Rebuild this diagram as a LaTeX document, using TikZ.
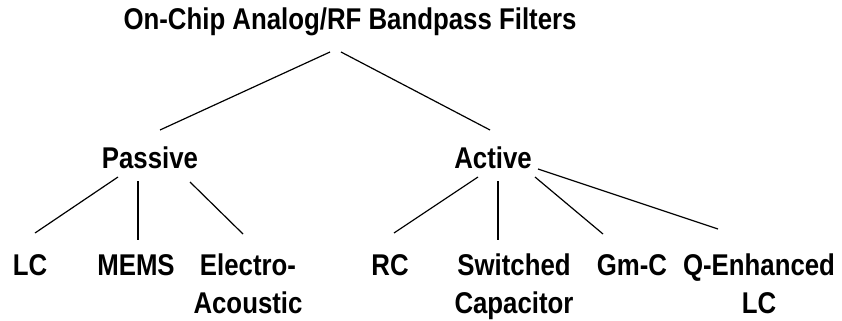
\documentclass[tikz,border=0pt]{standalone}
\usepackage{fontspec}
\setmainfont{Liberation Sans}[FakeStretch=0.86]
\begin{document}
\begin{tikzpicture}[x=0.75pt,y=-0.75pt,
  lbl/.style={anchor=base,inner sep=0pt,font=\fontsize{22.5}{28.5}\selectfont\bfseries,align=center},
  conn/.style={line width=0.9pt,black}]
\useasboundingbox (0,0) rectangle (842,321);
\fill[white] (0,0) rectangle (842,321);
\node[lbl] (root) at (350,29.5) {On-Chip Analog/RF Bandpass Filters};
\node[lbl] (passive) at (150,168) {Passive};
\node[lbl] (active) at (493,168) {Active};
\node[lbl] (lc) at (30,275) {LC};
\node[lbl] (mems) at (136,275) {MEMS};
\node[lbl] (electro) at (248,313) {Electro-\\Acoustic};
\node[lbl] (rc) at (390,275) {RC};
\node[lbl] (sc) at (514,313) {Switched\\Capacitor};
\node[lbl] (gmc) at (632,275) {Gm-C};
\node[lbl] (qlc) at (759,313) {Q-Enhanced\\LC};
% connector end points
\coordinate (rootL) at (330,52);
\coordinate (rootR) at (341,52);
\coordinate (pasT) at (160,130);
\coordinate (actT) at (490,130);
\coordinate (pasB1) at (118,177);
\coordinate (pasB2) at (138,181);
\coordinate (pasB3) at (190,182);
\coordinate (lcT) at (35,233);
\coordinate (memsT) at (138,240);
\coordinate (elT) at (243,234);
\coordinate (actB1) at (478,177);
\coordinate (actB2) at (498,181);
\coordinate (actB3) at (535,177);
\coordinate (actB4) at (538,169);
\coordinate (rcT) at (394,233);
\coordinate (scT) at (498,240);
\coordinate (gmT) at (603,234);
\coordinate (qT) at (718,229);
\draw[conn] (rootL) -- (pasT);
\draw[conn] (rootR) -- (actT);
\draw[conn] (pasB1) -- (lcT);
\draw[conn] (pasB2) -- (memsT);
\draw[conn] (pasB3) -- (elT);
\draw[conn] (actB1) -- (rcT);
\draw[conn] (actB2) -- (scT);
\draw[conn] (actB3) -- (gmT);
\draw[conn] (actB4) -- (qT);
\end{tikzpicture}
\end{document}
